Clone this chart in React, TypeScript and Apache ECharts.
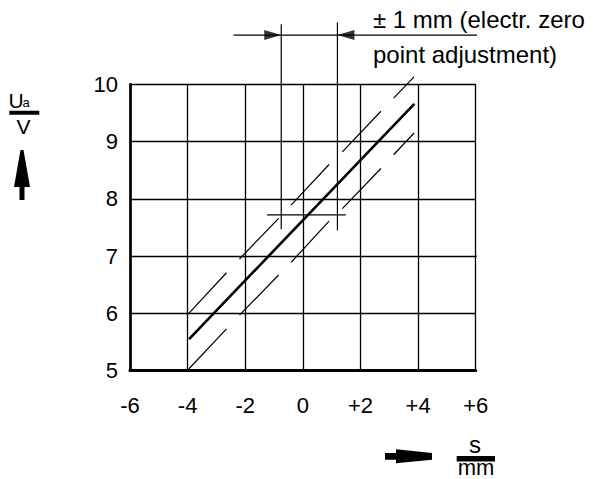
import React, { useEffect, useRef } from "react";
import * as echarts from "echarts";

// Axis ticks
const xTickValues = [-6, -4, -2, 0, 2, 4, 6];
const xTickLabels = ["-6", "-4", "-2", "0", "+2", "+4", "+6"];
const yMin = 5;
const yMax = 10;

// Characteristic line Ua(s)
const mainLine: [number, number][] = [
  [-3.95, 5.55],
  [3.87, 9.66],
];

// Tolerance band (broken thin lines)
const upperBand: [number, number][][] = [
  [[-3.96, 6.0], [-2.65, 6.71]],
  [[-2.2, 6.95], [-0.84, 7.66]],
  [[-0.41, 7.89], [0.91, 8.6]],
  [[1.37, 8.82], [2.71, 9.53]],
  [[3.15, 9.76], [3.86, 10.13]],
];
const lowerBand: [number, number][][] = [
  [[-3.96, 5.03], [-2.65, 5.73]],
  [[-2.2, 5.97], [-0.84, 6.67]],
  [[-0.41, 6.89], [0.91, 7.61]],
  [[1.37, 7.83], [2.71, 8.53]],
  [[3.15, 8.77], [3.86, 9.15]],
];

// Zero point adjustment construction
const zeroLine: [number, number][] = [
  [-1.24, 7.72],
  [1.49, 7.72],
];
const adjustLeft: [number, number][] = [
  [-0.75, 7.47],
  [-0.75, 11.05],
];
const adjustRight: [number, number][] = [
  [1.2, 7.45],
  [1.2, 11.08],
];
const dimensionLine: [number, number][] = [
  [-2.41, 10.86],
  [7.84, 10.86],
];
const arrowRightTip: [number, number][] = [[-0.75, 10.86]];
const arrowLeftTip: [number, number][] = [[1.2, 10.86]];
// small overrun of the 7 V grid line beyond the right border
const gridOverrun: [number, number][] = [
  [6, 7],
  [6.12, 7],
];

const FONT = '"Liberation Sans", Arial, Helvetica, sans-serif';

function segmentsToData(segs: [number, number][][]) {
  const out: any[] = [];
  segs.forEach((s, i) => {
    if (i > 0) out.push([null, null]);
    s.forEach((p) => out.push(p));
  });
  return out;
}

export default function App() {
  const ref = useRef<HTMLDivElement>(null);

  useEffect(() => {
    if (!ref.current) return;
    const chart = echarts.init(ref.current, null, { renderer: "svg" });

    const thin = { color: "#000", width: 1.2 };

    const option: any = {
      animation: false,
      backgroundColor: "#fff",
      grid: { left: 130, top: 84.3, width: 345.7, height: 286.4 },
      xAxis: {
        type: "value",
        min: -6,
        max: 6,
        interval: 2,
        axisLine: { show: true, onZero: false, lineStyle: { color: "#000", width: 3 } },
        axisTick: { show: false },
        splitLine: { show: true, lineStyle: { color: "#000", width: 1.3 } },
        axisLabel: {
          color: "#000",
          fontSize: 22,
          fontFamily: FONT,
          margin: 24,
          formatter: (v: number) => {
            const i = xTickValues.indexOf(v);
            return i >= 0 ? xTickLabels[i] : String(v);
          },
        },
      },
      yAxis: {
        type: "value",
        min: yMin,
        max: yMax,
        interval: 1,
        axisLine: { show: true, onZero: false, lineStyle: { color: "#000", width: 2.7 } },
        axisTick: { show: false },
        splitLine: { show: true, lineStyle: { color: "#000", width: 1.3 } },
        axisLabel: { color: "#000", fontSize: 22, fontFamily: FONT, margin: 12 },
      },
      series: [
        {
          type: "line",
          data: mainLine,
          symbol: "none",
          clip: false,
          lineStyle: { color: "#000", width: 2.6 },
          z: 5,
        },
        {
          type: "line",
          data: segmentsToData(upperBand),
          symbol: "none",
          clip: false,
          connectNulls: false,
          lineStyle: thin,
          z: 5,
        },
        {
          type: "line",
          data: segmentsToData(lowerBand),
          symbol: "none",
          clip: false,
          connectNulls: false,
          lineStyle: thin,
          z: 5,
        },
        { type: "line", data: zeroLine, symbol: "none", clip: false, lineStyle: thin, z: 5 },
        { type: "line", data: adjustLeft, symbol: "none", clip: false, lineStyle: thin, z: 5 },
        { type: "line", data: adjustRight, symbol: "none", clip: false, lineStyle: thin, z: 5 },
        { type: "line", data: dimensionLine, symbol: "none", clip: false, lineStyle: thin, z: 5 },
        { type: "line", data: gridOverrun, symbol: "none", clip: false, lineStyle: { color: "#000", width: 1.3 }, z: 5 },
        {
          type: "scatter",
          data: arrowRightTip,
          symbol: "path://M0,0L17,5L0,10Z",
          symbolSize: [17, 10],
          symbolOffset: [-8.5, 0],
          clip: false,
          itemStyle: { color: "#000" },
          z: 6,
        },
        {
          type: "scatter",
          data: arrowLeftTip,
          symbol: "path://M17,0L0,5L17,10Z",
          symbolSize: [17, 10],
          symbolOffset: [8.5, 0],
          clip: false,
          itemStyle: { color: "#000" },
          z: 6,
        },
      ],
      graphic: [
        {
          type: "text",
          x: 373,
          y: 19.5,
          style: {
            text: "± 1 mm (electr. zero",
            fontSize: 24,
            fontFamily: FONT,
            fill: "#000",
            textAlign: "left",
            textVerticalAlign: "middle",
          },
        },
        {
          type: "text",
          x: 373,
          y: 54,
          style: {
            text: "point adjustment)",
            fontSize: 24,
            fontFamily: FONT,
            fill: "#000",
            textAlign: "left",
            textVerticalAlign: "middle",
          },
        },
        // y-axis unit: Ua / V
        {
          type: "text",
          x: 16,
          y: 100,
          style: { text: "U", fontSize: 21, fontFamily: FONT, fill: "#000", textAlign: "center", textVerticalAlign: "middle" },
        },
        {
          type: "text",
          x: 26,
          y: 102,
          style: { text: "a", fontSize: 13, fontFamily: FONT, fill: "#000", textAlign: "center", textVerticalAlign: "middle" },
        },
        { type: "rect", shape: { x: 9.3, y: 110.7, width: 30, height: 4 }, style: { fill: "#000" } },
        {
          type: "text",
          x: 23.5,
          y: 126.5,
          style: { text: "V", fontSize: 21, fontFamily: FONT, fill: "#000", textAlign: "center", textVerticalAlign: "middle" },
        },
        {
          type: "polygon",
          shape: {
            points: [
              [20.5, 150],
              [23.5, 150],
              [30, 187],
              [24.5, 187],
              [24.5, 200],
              [19.5, 200],
              [19.5, 187],
              [14, 187],
            ],
          },
          style: { fill: "#000" },
        },
        // x-axis unit: s / mm
        {
          type: "polygon",
          shape: {
            points: [
              [385, 453],
              [396, 453],
              [396, 449.3],
              [432, 453],
              [432, 459.7],
              [396, 463.3],
              [396, 459.7],
              [385, 459.7],
            ],
          },
          style: { fill: "#000" },
        },
        {
          type: "text",
          x: 475,
          y: 444,
          style: { text: "s", fontSize: 24, fontFamily: FONT, fill: "#000", textAlign: "center", textVerticalAlign: "middle" },
        },
        { type: "rect", shape: { x: 456.7, y: 456, width: 38.3, height: 5.5 }, style: { fill: "#000" } },
        {
          type: "text",
          x: 476,
          y: 467.5,
          style: { text: "mm", fontSize: 22, fontFamily: FONT, fill: "#000", textAlign: "center", textVerticalAlign: "middle" },
        },
      ],
    };

    chart.setOption(option);
    return () => chart.dispose();
  }, []);

  return (
    <div
      ref={ref}
      style={{ position: "fixed", left: 0, top: 0, width: 593, height: 479, background: "#fff" }}
    />
  );
}
